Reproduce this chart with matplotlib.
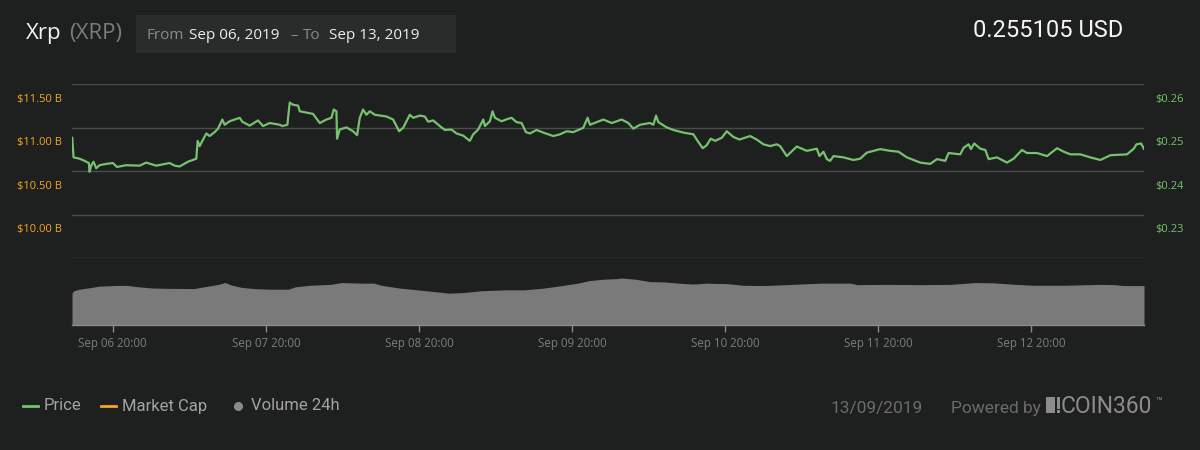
import matplotlib

matplotlib.use("Agg")
import matplotlib.dates as mdates
import matplotlib.pyplot as plt
import pandas as pd
from matplotlib.lines import Line2D
from matplotlib.patches import Rectangle

# --- data --------------------------------------------------------------------
START = pd.Timestamp("2019-09-06 00:00")
x_start = "2019-09-06 13:37"
x_end = "2019-09-13 13:38"

# hours after Sep 06 00:00, XRP price in USD
price_hours = [
    13.65, 13.86, 14.80, 15.58, 16.26, 16.37, 16.63, 16.99, 17.41, 17.93,
    18.98, 20.03, 20.65, 22.12, 24.21, 25.25, 26.82, 28.91, 29.70, 30.48,
    31.79, 33.10, 33.31, 33.62, 34.67, 35.19, 35.97, 36.50, 37.18, 37.54,
    38.33, 39.90, 40.31, 41.47, 42.77, 43.56, 44.60, 46.17, 46.59, 47.37,
    47.74, 48.26, 49.05, 49.31, 51.40, 52.45, 53.49, 54.28, 54.64, 55.06,
    55.16, 55.58, 56.63, 57.67, 58.30, 58.72, 59.24, 59.76, 60.29, 61.07,
    62.90, 63.95, 64.89, 65.52, 66.56, 67.09,
    68.13, 68.91, 69.44, 70.22, 71.27, 72.05, 73.10, 73.88, 74.93, 75.97,
    76.50, 77.28, 78.07, 78.33, 79.11, 79.53, 79.90, 80.94, 81.83, 82.51,
    83.29, 84.08, 84.76, 85.39, 86.43, 87.48, 89.05, 90.09, 91.14, 92.18,
    93.75, 94.43, 94.80, 95.84, 96.89, 98.20, 99.77, 100.81, 101.60, 102.64,
    104.21, 104.73, 105.15, 105.52, 106.82, 107.87, 109.44, 111.01, 111.53, 112.47,
    113.10, 113.73, 114.41, 115.45, 116.24, 117.28, 118.22, 119.90, 120.94, 121.99,
    123.03, 124.08,
    124.60, 125.65, 127.21, 128.78, 130.35, 130.77, 131.40, 131.92, 132.44, 132.97,
    134.54, 136.10, 137.15, 138.20, 140.29, 141.86, 143.16, 144.47, 146.56, 148.13,
    149.18, 150.48, 151.01, 152.84, 153.36, 154.14, 154.51, 155.03, 155.97, 156.76,
    157.28, 158.59, 160.16, 161.20, 162.51, 163.29, 164.86, 166.43, 168.00, 169.05,
    170.09, 171.66, 173.23, 174.80, 176.37, 178.98, 180.03, 180.45, 181.18, 181.60,
]
price_usd = [
    0.2477, 0.2432, 0.2429, 0.2424, 0.2419, 0.2399, 0.2413, 0.2422, 0.2407, 0.2414,
    0.2417, 0.2419, 0.2410, 0.2414, 0.2413, 0.2420, 0.2413, 0.2419, 0.2413, 0.2411,
    0.2422, 0.2429, 0.2470, 0.2458, 0.2487, 0.2481, 0.2490, 0.2498, 0.2519, 0.2507,
    0.2515, 0.2523, 0.2514, 0.2505, 0.2517, 0.2504, 0.2511, 0.2507, 0.2504, 0.2507,
    0.2558, 0.2553, 0.2551, 0.2538, 0.2532, 0.2511, 0.2519, 0.2523, 0.2542, 0.2538,
    0.2475, 0.2496, 0.2501, 0.2492, 0.2483, 0.2523, 0.2542, 0.2530, 0.2538, 0.2530,
    0.2526, 0.2519, 0.2492, 0.2500, 0.2530, 0.2523,
    0.2528, 0.2526, 0.2514, 0.2517, 0.2504, 0.2495, 0.2496, 0.2487, 0.2482, 0.2470,
    0.2485, 0.2496, 0.2519, 0.2504, 0.2515, 0.2538, 0.2523, 0.2515, 0.2520, 0.2523,
    0.2513, 0.2511, 0.2490, 0.2487, 0.2495, 0.2489, 0.2481, 0.2485, 0.2492, 0.2490,
    0.2500, 0.2523, 0.2507, 0.2513, 0.2519, 0.2511, 0.2519, 0.2511, 0.2498, 0.2507,
    0.2511, 0.2507, 0.2528, 0.2513, 0.2501, 0.2495, 0.2489, 0.2485, 0.2473, 0.2453,
    0.2460, 0.2475, 0.2470, 0.2477, 0.2492, 0.2479, 0.2473, 0.2481, 0.2473, 0.2462,
    0.2458, 0.2462,
    0.2458, 0.2435, 0.2457, 0.2447, 0.2452, 0.2435, 0.2445, 0.2428, 0.2424, 0.2435,
    0.2432, 0.2426, 0.2429, 0.2443, 0.2451, 0.2447, 0.2445, 0.2432, 0.2420, 0.2417,
    0.2428, 0.2424, 0.2442, 0.2439, 0.2454, 0.2462, 0.2451, 0.2464, 0.2452, 0.2449,
    0.2428, 0.2432, 0.2420, 0.2429, 0.2449, 0.2442, 0.2442, 0.2435, 0.2453, 0.2445,
    0.2439, 0.2439, 0.2432, 0.2426, 0.2437, 0.2439, 0.2452, 0.2462, 0.2464, 0.2452,
]

# hours after Sep 06 00:00, 24h volume in billions USD
volume_hours = [
    13.62, 13.90, 14.73, 16.43, 17.82, 20.07, 22.03, 23.99, 26.23, 28.46,
    32.66, 33.79, 35.19, 36.58, 37.60, 38.55, 40.22, 42.18, 44.71, 47.52,
    48.63, 50.87, 54.23, 55.91, 58.72, 60.96, 62.07, 64.88, 67.67, 70.48,
    72.72, 74.97, 77.76, 81.68, 84.49, 87.28, 90.09, 92.90, 94.58, 96.82,
    99.05, 99.72, 101.97, 104.21, 106.45, 108.70, 110.94, 113.17, 116.54, 118.78,
    122.14, 126.62, 131.10, 135.58, 136.70, 141.18, 146.78, 151.27, 155.19, 158.00,
    160.79, 164.15, 169.20, 174.80, 177.04, 178.44, 181.63,
]
volume_busd = [
    1.05, 1.13, 1.18, 1.23, 1.28, 1.30, 1.31, 1.26, 1.22, 1.21,
    1.20, 1.24, 1.29, 1.34, 1.40, 1.32, 1.24, 1.20, 1.18, 1.18,
    1.26, 1.31, 1.34, 1.40, 1.38, 1.38, 1.31, 1.22, 1.16, 1.10,
    1.05, 1.07, 1.13, 1.16, 1.16, 1.21, 1.29, 1.38, 1.46, 1.51,
    1.53, 1.55, 1.51, 1.43, 1.42, 1.38, 1.35, 1.38, 1.36, 1.31,
    1.30, 1.34, 1.38, 1.38, 1.33, 1.34, 1.33, 1.34, 1.40, 1.39,
    1.35, 1.31, 1.31, 1.34, 1.33, 1.30, 1.30,
]

price_grid = [0.22, 0.23, 0.24, 0.25, 0.26]
price_tick_labels = ["", "$0.23", "$0.24", "$0.25", "$0.26"]
mcap_ticks = [10.00, 10.50, 11.00, 11.50]
mcap_tick_labels = ["$10.00 B", "$10.50 B", "$11.00 B", "$11.50 B"]
date_ticks = pd.date_range("2019-09-06 20:00", periods=7, freq="D")

# --- style -------------------------------------------------------------------
BG = "#1e201f"
GREEN = "#76c26e"
ORANGE = "#f5a623"
GRID = "#4b4c4b"
W, H = 1200, 450

plt.rcParams["font.family"] = ["Open Sans", "DejaVu Sans"]


def rect(left, top, right, bottom):
    # pixel box (top-left origin) -> figure fraction rect
    return [left / W, 1 - bottom / H, (right - left) / W, (bottom - top) / H]


def px(x, y):
    return x / W, 1 - y / H


fig = plt.figure(figsize=(12, 4.5), dpi=100, facecolor=BG)

price_t = (START + pd.to_timedelta(price_hours, unit="h")).to_pydatetime()
vol_t = (START + pd.to_timedelta(volume_hours, unit="h")).to_pydatetime()
xlim = (pd.Timestamp(x_start).to_pydatetime(), pd.Timestamp(x_end).to_pydatetime())

# price panel
ax = fig.add_axes(rect(72, 84.3, 1144, 258.3))
ax.set_facecolor("none")
ax.plot(price_t, price_usd, color=GREEN, lw=1.6, solid_joinstyle="round", zorder=3)
ax.set_xlim(*xlim)
ax.set_ylim(0.22, 0.26)
ax.set_yticks(price_grid)
ax.set_yticklabels([])
ax.grid(axis="y", color=GRID, lw=1)
ax.tick_params(length=0)
ax.set_xticks([])
for s in ax.spines.values():
    s.set_visible(False)
for v, lab in zip(price_grid, price_tick_labels):
    ax.annotate(lab, xy=(1, v), xycoords=ax.get_yaxis_transform(),
                xytext=(11, -15), textcoords="offset pixels",
                ha="left", va="center", color=GREEN, fontsize=8)

# market cap scale on the left (labels only)
ax_mc = ax.twinx()
ax_mc.set_ylim(9.5, 11.5)
ax_mc.axis("off")
for v, lab in zip(mcap_ticks, mcap_tick_labels):
    ax_mc.annotate(lab, xy=(0, v), xycoords=ax_mc.get_yaxis_transform(),
                   xytext=(-10, -15), textcoords="offset pixels",
                   ha="right", va="center", color=ORANGE, fontsize=8)

# volume panel
axv = fig.add_axes(rect(72, 258.3, 1144, 325))
axv.set_facecolor("none")
axv.fill_between(vol_t, volume_busd, 0, color="#7a7a7a", lw=0)
axv.set_xlim(*xlim)
axv.set_ylim(0, 2.2)
axv.set_yticks([])
for side in ("top", "left", "right"):
    axv.spines[side].set_visible(False)
axv.spines["bottom"].set_color("#8a8a8a")
axv.spines["bottom"].set_linewidth(1)
axv.set_xticks(date_ticks.to_pydatetime())
axv.xaxis.set_major_formatter(mdates.DateFormatter("%b %d %H:%M"))
axv.tick_params(axis="x", colors="#8a8a8a", labelcolor="#7c7c7c",
                length=5, width=1, labelsize=8.3, pad=4)

# header
fig.patches.append(Rectangle(px(136, 53), 320 / W, 38 / H, transform=fig.transFigure,
                             facecolor="#2a2c2b", edgecolor="none"))
fig.text(*px(26, 39), "Xrp", color="#f2f2f2", fontsize=16, va="baseline")
fig.text(*px(69, 39), "(XRP)", color="#7b7b7b", fontsize=16, va="baseline")
fig.text(*px(146, 39), "From", color="#8a8a8a", fontsize=11, va="baseline")
fig.text(*px(189, 39), "Sep 06, 2019", color="#eeeeee", fontsize=11, va="baseline")
fig.text(*px(290, 39), "–", color="#8a8a8a", fontsize=11, va="baseline")
fig.text(*px(303, 39), "To", color="#8a8a8a", fontsize=11, va="baseline")
fig.text(*px(329, 39), "Sep 13, 2019", color="#eeeeee", fontsize=11, va="baseline")
fig.text(*px(1123, 37), "0.255105 USD", color="#f5f5f5", fontsize=17,
         family=["Roboto", "DejaVu Sans"], ha="right", va="baseline")

# legend
legend_y = 406
fig.add_artist(Line2D([23 / W, 38 / W], [1 - legend_y / H] * 2, color=GREEN, lw=2,
                      transform=fig.transFigure))
fig.add_artist(Line2D([101 / W, 116 / W], [1 - legend_y / H] * 2, color=ORANGE, lw=2,
                      transform=fig.transFigure))
fig.add_artist(Line2D([238 / W], [1 - legend_y / H], marker="o", markersize=5.5,
                      color="#8a8a8a", lw=0, transform=fig.transFigure))
for x, lab in [(44, "Price"), (122, "Market Cap"), (251, "Volume 24h")]:
    fig.text(*px(x, legend_y), lab, color="#a3a3a3", fontsize=12,
             family=["Roboto", "DejaVu Sans"], va="center")

fig.text(*px(831, 413.5), "13/09/2019", color="#6b6b6b", fontsize=12.5,
         family=["Roboto", "DejaVu Sans"], va="baseline")
fig.text(*px(951, 413.5), "Powered by", color="#6b6b6b", fontsize=12.5,
         family=["Roboto", "DejaVu Sans"], va="baseline")

# COIN360 logo
logo = "#8c8c8c"
fig.patches.append(Rectangle(px(1046, 413), 9 / W, 15.7 / H, transform=fig.transFigure,
                             facecolor=logo, edgecolor="none"))
fig.patches.append(Rectangle(px(1056.5, 408.5), 3.5 / W, 11.2 / H, transform=fig.transFigure,
                             facecolor=logo, edgecolor="none"))
fig.patches.append(Rectangle(px(1056.5, 413), 3.5 / W, 3 / H, transform=fig.transFigure,
                             facecolor=logo, edgecolor="none"))
fig.text(*px(1061, 413), "COIN360", color=logo, fontsize=16.5,
         family=["Roboto", "DejaVu Sans"], va="baseline")
fig.text(*px(1155, 405), "™", color=logo, fontsize=8,
         family=["Roboto", "DejaVu Sans"], va="baseline")

fig.savefig("out.png", dpi=100, facecolor=BG)
